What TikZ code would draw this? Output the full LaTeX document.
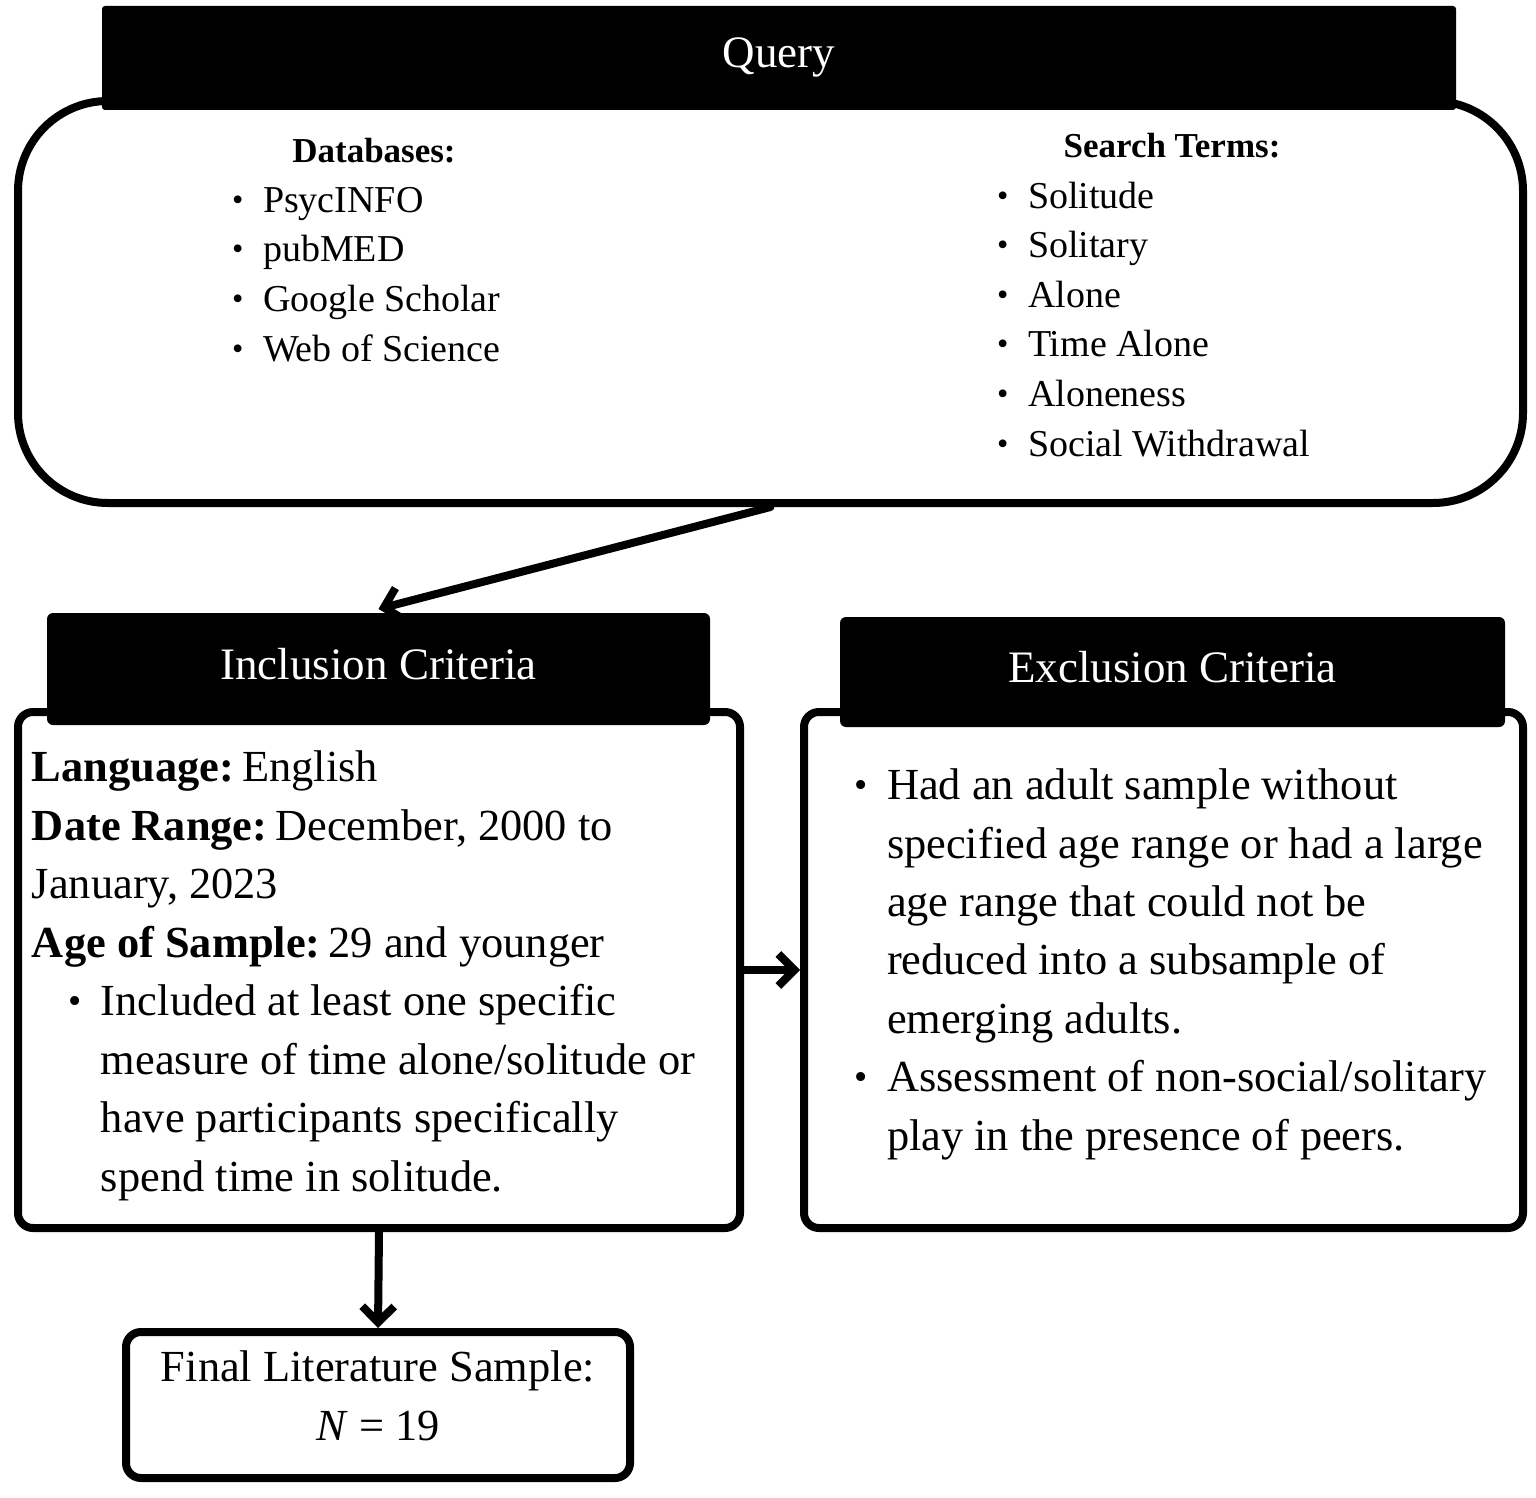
\documentclass[tikz,border=0pt]{standalone}
\usepackage{fontspec}
\setmainfont{Liberation Serif}
\usetikzlibrary{arrows.meta}

\newcommand{\dotmark}{\raisebox{0.05em}{\scalebox{0.85}{\textbullet}}}

\begin{document}
\begin{tikzpicture}[x=0.5pt, y=-0.5pt, line width=4pt,
    box/.style={draw, rounded corners=7.5pt, inner sep=0pt},
    head/.style={fill=black, text=white, rounded corners=3pt, font=\fontsize{22.5}{27}\selectfont, text height=14pt, text depth=4pt},
    body/.style={align=left, inner sep=0pt, anchor=base west, font=\fontsize{22.2}{29.2}\selectfont},
    list/.style={align=left, inner sep=0pt, anchor=base west, font=\fontsize{19}{24.8}\selectfont},
    title/.style={anchor=base, inner sep=0pt, font=\bfseries\fontsize{17.5}{21}\selectfont},
    arr/.style={-{Straight Barb[length=8pt, width=16pt]}, line cap=round}]
    \useasboundingbox (0,0) rectangle (1536,1498);

    % boxes
    \node[box, rounded corners=45pt, minimum width=752.5pt, minimum height=201pt] (query) at (770.5,302) {};
    \node[box, minimum width=361pt, minimum height=258pt] (incl) at (379,970) {};
    \node[box, minimum width=359.5pt, minimum height=258pt] (excl) at (1163.5,970) {};
    \node[box, minimum width=252pt, minimum height=73pt] (final) at (378,1405) {};

    % headers
    \node[head, rounded corners=1.5pt, minimum width=677pt, minimum height=52pt] (queryhead) at (779,58) {Query};
    \node[head, minimum width=331.5pt, minimum height=56pt] (inclhead) at (378.5,669) {Inclusion Criteria};
    \node[head, minimum width=332.5pt, minimum height=55pt] (exclhead) at (1172.5,672) {Exclusion Criteria};

    % query contents (base = last line)
    \node[title] (dbtitle) at (374,163) {Databases:};
    \node[list] (dblist) at (228,361) {\makebox[15.5pt][l]{\dotmark}PsycINFO\\\makebox[15.5pt][l]{\dotmark}pubMED\\\makebox[15.5pt][l]{\dotmark}Google Scholar\\\makebox[15.5pt][l]{\dotmark}Web of Science};
    \node[title] (termtitle) at (1172,158) {Search Terms:};
    \node[list] (termlist) at (993,456) {\makebox[15.5pt][l]{\dotmark}Solitude\\\makebox[15.5pt][l]{\dotmark}Solitary\\\makebox[15.5pt][l]{\dotmark}Alone\\\makebox[15.5pt][l]{\dotmark}Time Alone\\\makebox[15.5pt][l]{\dotmark}Aloneness\\\makebox[15.5pt][l]{\dotmark}Social Withdrawal};

    % criteria contents
    \node[body] (incltext) at (28,957) {\textbf{Language:}\hspace{4pt}English\\\textbf{Date Range:}\hspace{4pt}December, 2000 to\\January, 2023\\\textbf{Age of Sample:}\hspace{4pt}29 and younger};
    \node[body] (incllist) at (64,1191) {\makebox[16.5pt][l]{\dotmark}Included at least one specific\\\hspace*{16.5pt}measure of time alone/solitude or\\\hspace*{16.5pt}have participants specifically\\\hspace*{16.5pt}spend time in solitude.};
    \node[body] (excllist) at (850,1150) {\makebox[16.5pt][l]{\dotmark}Had an adult sample without\\\hspace*{16.5pt}specified age range or had a large\\\hspace*{16.5pt}age range that could not be\\\hspace*{16.5pt}reduced into a subsample of\\\hspace*{16.5pt}emerging adults.\\\makebox[16.5pt][l]{\dotmark}Assessment of non-social/solitary\\\hspace*{16.5pt}play in the presence of peers.};
    \node[body, anchor=base, align=center] (finaltext) at (378,1440) {Final Literature Sample:\\\textit{N} = 19};

    % arrows
    \draw[arr] (query.south) -- (inclhead.north);
    \draw[arr] (incl.east) -- (excl.west);
    \draw[arr] (incl.south) -- (final.north);
\end{tikzpicture}
\end{document}
